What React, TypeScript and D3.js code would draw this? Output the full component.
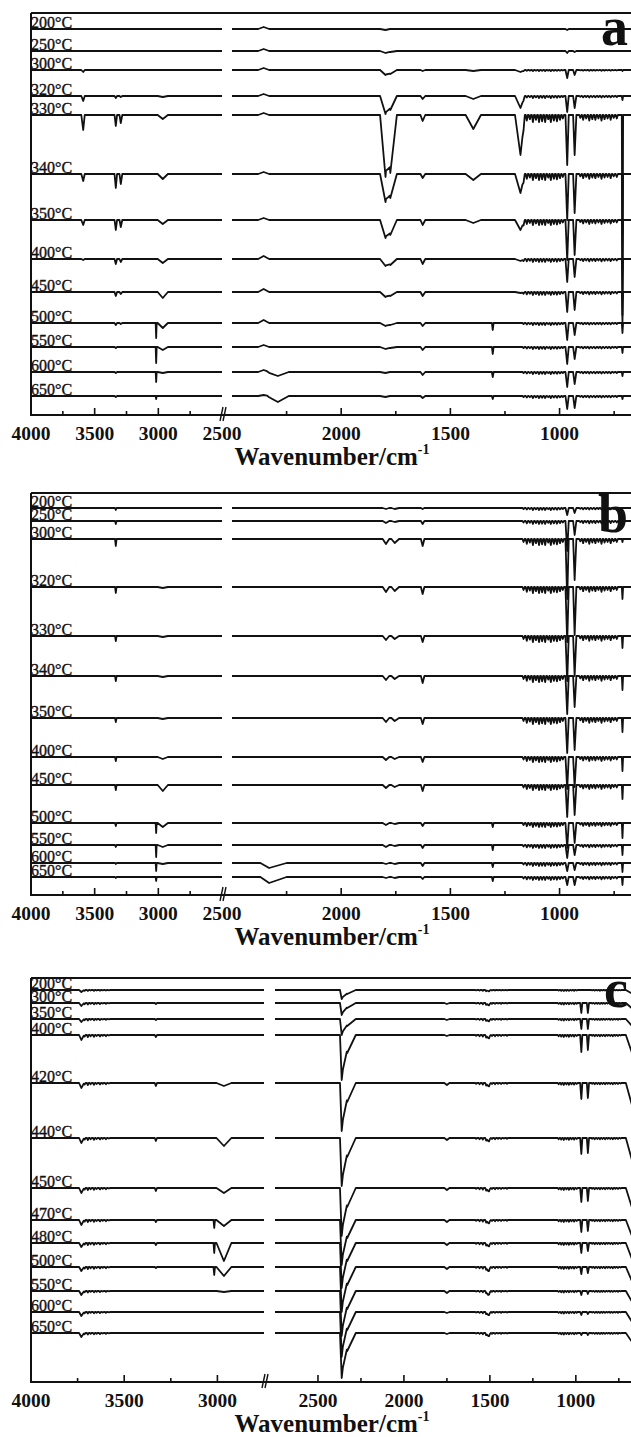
import React from 'react';
import * as d3 from 'd3';

const W = 631;
const H = 1437;

// ---------- Panel a ----------
const tempsA = ['200°C', '250°C', '300°C', '320°C', '330°C', '340°C', '350°C', '400°C', '450°C', '500°C', '550°C', '600°C', '650°C'];
const baseA = [16, 38, 57, 83, 102, 161, 207, 246, 279, 310, 334, 359, 383];
// [center, half-width on high-wavenumber side, half-width on low side]
const featA = [
  [3590, 15, 12], [3334, 10, 10], [3295, 10, 12], [3017, 4, 4], [2965, 40, 40],
  [2355, 25, 25], [2290, 50, 50], [1797, 25, 20], [1775, 20, 30], [1627, 10, 12],
  [1395, 35, 35], [1306, 4, 4], [1179, 25, 20], [965, 8, 7], [931, 7, 8], [712, 3, 3],
];
const depthA = [
  [0, 0, 0, 0, 0, -2, 0, 1, 0, 0, 0, 0, 0, 1, 0, 0],
  [0, 0, 0, 0, 0, -2, 0, 2, 1, 0, 0, 0, 0, 2, 1, 0],
  [2, 0, 0, 0, 0, -2, 0, 5, 4, 1, 1, 0, 2, 8, 5, 1],
  [5, 2, 1, 0, 1, -2, 0, 18, 14, 3, 3, 0, 12, 16, 12, 4],
  [15, 11, 8, 0, 4, -2, 0, 62, 58, 6, 14, 0, 40, 50, 40, 200],
  [7, 14, 10, 0, 5, -2, 0, 28, 24, 4, 6, 0, 19, 46, 39, 60],
  [5, 10, 7, 0, 4, -2, 0, 18, 15, 5, 3, 0, 10, 40, 35, 50],
  [1, 5, 3, 0, 4, -3, 0, 7, 6, 5, 0, 0, 2, 23, 18, 40],
  [0, 4, 2, 0, 6, -3, 0, 5, 4, 4, 0, 0, 1, 20, 18, 30],
  [0, 2, 1, 15, 5, -3, 0, 3, 2, 3, 0, 7, 0, 17, 12, 10],
  [0, 1, 0, 16, 3, -2, 0, 2, 1, 3, 0, 7, 0, 17, 12, 6],
  [0, 1, 0, 10, 1, -2, 4, 1, 0, 3, 0, 5, 0, 15, 12, 4],
  [0, 1, 0, 3, 0, -1, 6, 1, 0, 2, 0, 3, 0, 13, 12, 3],
];
const rippleAmpA = [0, 0, 1, 2, 7, 6, 5, 3, 3, 2, 2, 2, 2];
const rippleAB = [1165, 1150, 1136, 1122, 1108, 1094, 1080, 1066, 1052, 1040, 1026, 1012, 998, 985,
  905, 892, 878, 864, 850, 836, 822, 808, 794, 780, 766, 752, 738];
const rippleWeightAB = [0.5, 0.8, 0.6, 1, 0.7, 1, 0.9, 1, 0.6, 1, 0.8, 0.9, 0.7, 0.5,
  0.4, 0.7, 0.5, 0.8, 0.6, 0.7, 0.5, 0.8, 0.6, 0.5, 0.7, 0.4, 0.5];

// ---------- Panel b ----------
const tempsB = ['200°C', '250°C', '300°C', '320°C', '330°C', '340°C', '350°C', '400°C', '450°C', '500°C', '550°C', '600°C', '650°C'];
const baseB = [15, 28, 46, 94, 143, 183, 225, 264, 292, 330, 352, 370, 384];
const featB = [
  [3334, 6, 6], [3017, 4, 4], [2965, 40, 40], [2330, 40, 80], [1795, 15, 15],
  [1755, 15, 20], [1627, 8, 8], [1306, 4, 4], [965, 8, 7], [931, 7, 8], [712, 3, 3],
];
const depthB = [
  [2, 0, 0, 0, 1, 1, 1, 0, 7, 5, 0],
  [3, 0, 0, 0, 2, 1, 3, 0, 30, 14, 2],
  [7, 0, 0, 0, 5, 4, 7, 0, 60, 41, 3],
  [6, 0, 1, 0, 5, 4, 7, 0, 55, 48, 12],
  [5, 0, 1, 0, 4, 3, 6, 0, 45, 40, 12],
  [5, 0, 1, 0, 4, 3, 7, 0, 38, 31, 14],
  [4, 0, 1, 0, 4, 3, 6, 0, 35, 32, 14],
  [4, 0, 2, 0, 3, 2, 5, 0, 32, 30, 14],
  [5, 0, 6, 0, 3, 2, 6, 0, 32, 30, 14],
  [3, 10, 4, 0, 2, 1, 3, 4, 25, 20, 15],
  [2, 12, 2, 0, 2, 1, 3, 5, 13, 10, 10],
  [1, 8, 1, 5, 1, 1, 3, 4, 8, 7, 9],
  [1, 4, 0, 6, 1, 1, 2, 4, 8, 8, 8],
];
const rippleAmpB = [2, 3, 6, 6, 6, 6, 6, 5, 5, 4, 3, 3, 3];

// ---------- Panel c ----------
const tempsC = ['200°C', '300°C', '350°C', '400°C', '420°C', '440°C', '450°C', '470°C', '480°C', '500°C', '550°C', '600°C', '650°C'];
const baseC = [12, 25, 41, 57, 105, 160, 210, 242, 265, 289, 313, 334, 355];
const featC = [
  [3730, 12, 15], [3330, 6, 6], [3017, 4, 4], [2965, 40, 40], [2362, 10, 30],
  [2330, 25, 50], [1750, 15, 15], [1510, 15, 15], [968, 7, 6], [930, 6, 7], [669, 40, 20],
];
const depthC = [
  [2, 0, 0, 0, 9, 4, 0, 1, 0, 0, 4],
  [3, 1, 0, 0, 12, 5, 1, 2, 10, 10, 6],
  [3, 1, 0, 0, 16, 7, 1, 2, 10, 10, 8],
  [5, 2, 0, 0, 45, 18, 1, 3, 17, 15, 20],
  [5, 3, 0, 3, 48, 19, 2, 3, 16, 15, 25],
  [5, 3, 0, 8, 48, 19, 2, 3, 16, 15, 25],
  [5, 3, 0, 5, 48, 19, 2, 3, 14, 13, 22],
  [5, 2, 8, 6, 45, 18, 2, 3, 12, 11, 18],
  [4, 2, 10, 18, 45, 18, 2, 3, 10, 8, 18],
  [4, 1, 8, 9, 45, 18, 2, 4, 7, 6, 16],
  [4, 0, 0, 1, 45, 18, 2, 4, 4, 3, 12],
  [4, 0, 0, 0, 45, 18, 1, 3, 3, 2, 11],
  [4, 0, 0, 0, 45, 18, 1, 3, 2, 2, 10],
];
const rippleAmpC = [1, 1.5, 1.5, 2, 2, 2, 2, 2, 2, 2, 1.5, 1.5, 1.5];
const rippleC = [3712, 3695, 3680, 3662, 3648, 3630, 3615, 3598, 3582,
  1580, 1560, 1541, 1522, 1505, 1488, 1470, 1452, 1435, 1418, 1400,
  1100, 1085, 1070, 1055, 1040, 1025, 1010, 995,
  905, 890, 875, 860, 845, 830, 815, 800, 785, 770, 755, 740];
const rippleWeightC = [0.8, 1, 0.6, 0.9, 0.5, 0.7, 0.4, 0.6, 0.3,
  0.4, 0.6, 0.8, 1, 0.7, 0.5, 0.6, 0.4, 0.5, 0.3, 0.4,
  0.6, 0.8, 1, 0.7, 0.9, 0.6, 0.8, 0.5,
  0.4, 0.6, 0.5, 0.7, 0.5, 0.6, 0.4, 0.5, 0.6, 0.4, 0.5, 0.3];

// ---------- Axis ticks ----------
const majorLeftAB = [3500, 3000];
const minorLeftAB = [3750, 3250, 2750];
const majorRightAB = [2000, 1500, 1000];
const minorRightAB = [2250, 1750, 1250, 750];
const labelsLeftAB = [4000, 3500, 3000, 2500];
const labelsRightAB = [2000, 1500, 1000];
const majorLeftC = [3500, 3000];
const minorLeftC = [3750, 3250];
const majorRightC = [2500, 2000, 1500, 1000];
const minorRightC = [2250, 1750, 1250, 750];
const labelsLeftC = [4000, 3500, 3000];
const labelsRightC = [2500, 2000, 1500, 1000];

type Feat = number[];

function buildPoints(base: number, feats: Feat[], depths: number[], ripples: number[], rw: number[], rAmp: number, hi: number, lo: number) {
  const ws = new Set<number>([hi, lo]);
  feats.forEach((f, i) => {
    if (depths[i]) [f[0] + f[1], f[0], f[0] - f[2]].forEach((w) => ws.add(w));
  });
  if (rAmp) ripples.forEach((c) => [c + 5, c, c - 5].forEach((w) => ws.add(w)));
  const arr = Array.from(ws).filter((w) => w <= hi && w >= lo).sort((a, b) => b - a);
  return arr.map((w) => {
    let y = base;
    feats.forEach((f, i) => {
      const d = depths[i];
      if (!d) return;
      const t = w >= f[0] ? 1 - (w - f[0]) / f[1] : 1 - (f[0] - w) / f[2];
      if (t > 0) y += d * t;
    });
    if (rAmp) ripples.forEach((c, k) => {
      const t = 1 - Math.abs(w - c) / 5;
      if (t > 0) y += rAmp * rw[k] * t;
    });
    return [w, y] as [number, number];
  });
}

const panels = [
  {
    letter: 'a', letterDy: 32, top: 13, axis: 415, brk: 2500, xL: 222, xR: 232,
    temps: tempsA, base: baseA, feat: featA, depth: depthA, ripple: rippleAB, rw: rippleWeightAB, rAmp: rippleAmpA,
    majL: majorLeftAB, minL: minorLeftAB, majR: majorRightAB, minR: minorRightAB,
    labL: labelsLeftAB, labR: labelsRightAB,
  },
  {
    letter: 'b', letterDy: 39, top: 493, axis: 895, brk: 2500, xL: 222, xR: 232,
    temps: tempsB, base: baseB, feat: featB, depth: depthB, ripple: rippleAB, rw: rippleWeightAB, rAmp: rippleAmpB,
    majL: majorLeftAB, minL: minorLeftAB, majR: majorRightAB, minR: minorRightAB,
    labL: labelsLeftAB, labR: labelsRightAB,
  },
  {
    letter: 'c', letterDy: 29, top: 978, axis: 1382, brk: 2750, xL: 264, xR: 275,
    temps: tempsC, base: baseC, feat: featC, depth: depthC, ripple: rippleC, rw: rippleWeightC, rAmp: rippleAmpC,
    majL: majorLeftC, minL: minorLeftC, majR: majorRightC, minR: minorRightC,
    labL: labelsLeftC, labR: labelsRightC,
  },
];

const FONT = '"Liberation Serif", "Times New Roman", serif';
const X0 = 31;

function Panel({ p }: { p: typeof panels[number] }) {
  const xLeft = d3.scaleLinear().domain([4000, p.brk]).range([X0, p.xL]);
  const xRight = d3.scaleLinear().domain([p.brk, 650]).range([p.xR, 636]);
  const y = d3.scaleLinear().domain([0, p.axis - p.top]).range([p.top, p.axis]);
  const lineL = d3.line<[number, number]>().x((d) => xLeft(d[0])).y((d) => y(d[1]));
  const lineR = d3.line<[number, number]>().x((d) => xRight(d[0])).y((d) => y(d[1]));

  return (
    <g>
      {p.temps.map((t, i) => {
        const ptsL = buildPoints(p.base[i], p.feat, p.depth[i], p.ripple, p.rw, p.rAmp[i], 4000, p.brk);
        const ptsR = buildPoints(p.base[i], p.feat, p.depth[i], p.ripple, p.rw, p.rAmp[i], p.brk, 650);
        return (
          <g key={t}>
            <path d={lineL(ptsL) || ''} fill="none" stroke="#111" strokeWidth={1.8} strokeLinejoin="round" />
            <path d={lineR(ptsR) || ''} fill="none" stroke="#111" strokeWidth={1.8} strokeLinejoin="round" />
          </g>
        );
      })}
      {p.temps.map((t, i) => (
        <text key={'l' + t} x={X0} y={y(p.base[i]) - 1} fontFamily={FONT} fontSize={16} fill="#111" stroke="#111" strokeWidth={0.35}>{t}</text>
      ))}
      {/* frame */}
      <line x1={X0} x2={640} y1={p.top} y2={p.top} stroke="#111" strokeWidth={2} />
      <line x1={X0} x2={X0} y1={p.top} y2={p.axis} stroke="#111" strokeWidth={2} />
      <line x1={X0 - 1} x2={640} y1={p.axis} y2={p.axis} stroke="#111" strokeWidth={2} />
      {/* ticks */}
      {p.majL.map((v) => <line key={'ml' + v} x1={xLeft(v)} x2={xLeft(v)} y1={p.axis} y2={p.axis - 7} stroke="#111" strokeWidth={1.6} />)}
      {p.minL.map((v) => <line key={'nl' + v} x1={xLeft(v)} x2={xLeft(v)} y1={p.axis} y2={p.axis - 4} stroke="#111" strokeWidth={1.6} />)}
      {p.majR.map((v) => <line key={'mr' + v} x1={xRight(v)} x2={xRight(v)} y1={p.axis} y2={p.axis - 7} stroke="#111" strokeWidth={1.6} />)}
      {p.minR.map((v) => <line key={'nr' + v} x1={xRight(v)} x2={xRight(v)} y1={p.axis} y2={p.axis - 4} stroke="#111" strokeWidth={1.6} />)}
      {/* break mark */}
      <line x1={p.xL - 2} x2={p.xL + 1} y1={p.axis + 6} y2={p.axis - 8} stroke="#111" strokeWidth={1.4} />
      <line x1={p.xL + 1} x2={p.xL + 4} y1={p.axis + 6} y2={p.axis - 8} stroke="#111" strokeWidth={1.4} />
      {/* tick labels */}
      {p.labL.map((v) => (
        <text key={'tl' + v} x={xLeft(v)} y={p.axis + 25} textAnchor="middle" fontFamily={FONT} fontWeight="bold" fontSize={19.5} fill="#111">{v}</text>
      ))}
      {p.labR.map((v) => (
        <text key={'tr' + v} x={xRight(v)} y={p.axis + 25} textAnchor="middle" fontFamily={FONT} fontWeight="bold" fontSize={19.5} fill="#111">{v}</text>
      ))}
      <text x={332} y={p.axis + 50} textAnchor="middle" fontFamily={FONT} fontWeight="bold" fontSize={25} fill="#111">
        Wavenumber/cm<tspan fontSize={14} dy={-11}>-1</tspan>
      </text>
      <text x={628} y={p.top + p.letterDy} textAnchor="end" fontFamily={FONT} fontWeight="bold" fontSize={54} fill="#111">{p.letter}</text>
    </g>
  );
}

export default function App() {
  return (
    <svg width={W} height={H} style={{ position: 'absolute', left: 0, top: 0, background: '#fff' }}>
      <rect x={0} y={0} width={W} height={H} fill="#fff" />
      {panels.map((p) => <Panel key={p.letter} p={p} />)}
    </svg>
  );
}
